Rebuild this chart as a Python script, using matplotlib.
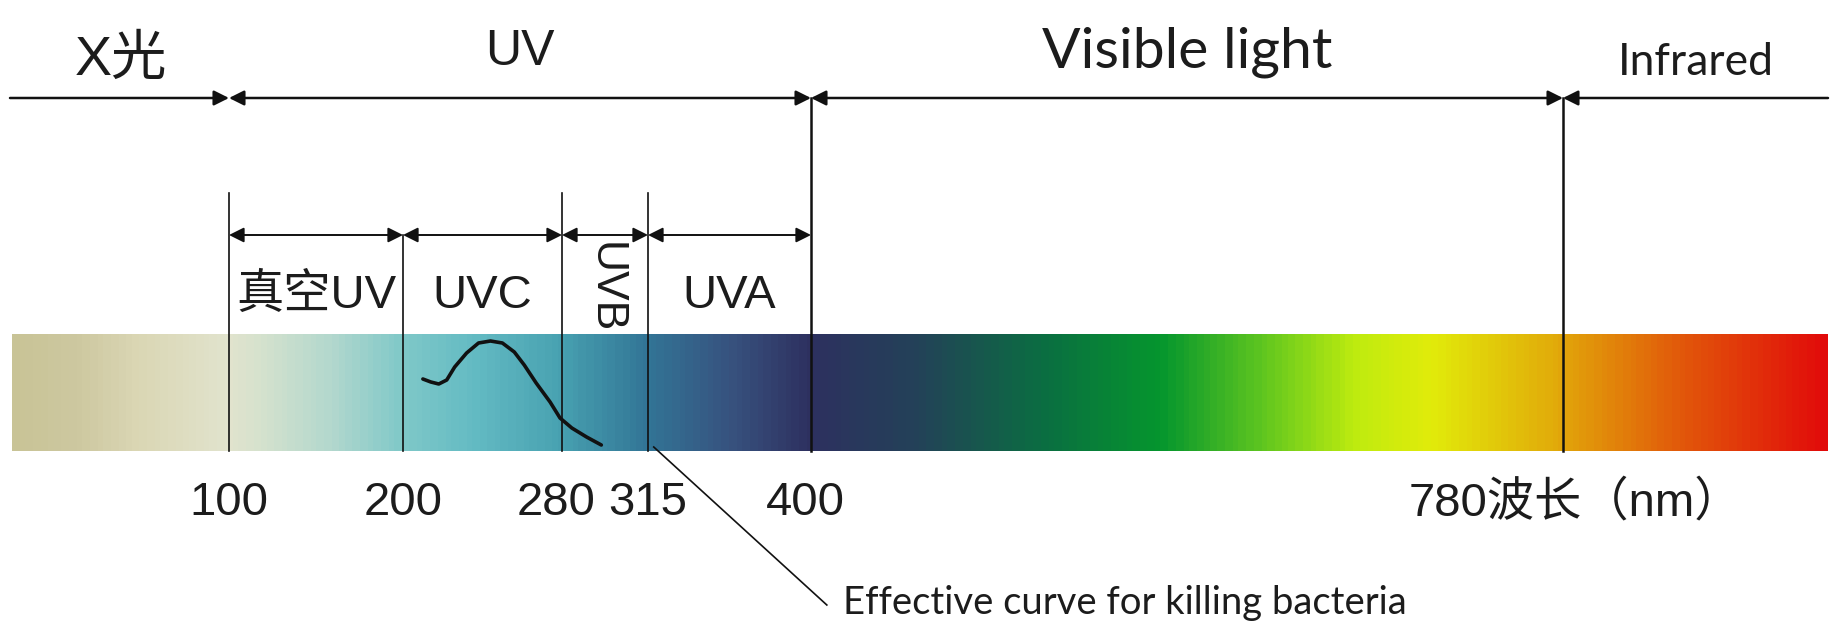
import numpy as np
import matplotlib
matplotlib.use('Agg')
import matplotlib.pyplot as plt
from matplotlib import font_manager
from matplotlib.colors import LinearSegmentedColormap

# band edges (nm) and names
edges = [100, 200, 280, 315, 400, 780]
edge_labels = ['100', '200', '280', '315', '400', '780波长（nm）']
top_bands = ['X光', 'UV', 'Visible light', 'Infrared']
top_spans = [(0, 100), (100, 400), (400, 780), (780, 1000)]
uv_bands = ['真空UV', 'UVC', 'UVB', 'UVA']
uv_spans = [(100, 200), (200, 280), (280, 315), (315, 400)]

# germicidal (effective) curve
curve_nm = [210, 214, 218, 222, 226, 232, 238, 244, 250, 256, 261, 267, 274, 279, 284, 290, 296]
curve_y = [379, 382, 384, 380, 367, 353, 343, 341, 343, 352, 365, 383, 402, 418, 428, 437, 445]

# spectrum colours along the bar (position along bar, rgb)
grad_pos = [0, 64, 123, 214, 252, 317, 387, 458, 545, 633, 721, 798, 905, 1034, 1151, 1257, 1345, 1421, 1545, 1668, 1816]
grad_rgb = [(200, 195, 150), (205, 200, 160), (218, 214, 180), (225, 227, 205), (210, 225, 205),
            (178, 215, 205), (128, 200, 200), (100, 187, 195), (72, 162, 177), (50, 117, 150),
            (55, 80, 125), (45, 48, 95), (35, 65, 88), (10, 110, 65), (5, 150, 45),
            (100, 200, 30), (190, 235, 15), (225, 235, 10), (225, 170, 10), (225, 90, 10), (225, 10, 10)]

# piecewise scale: wavelength -> pixel column (schematic, not linear)
wl_anchor = [-1000, 0, 100, 200, 280, 315, 400, 780, 1000, 3000]
px_anchor = [-2158, 12, 229, 403, 562, 648, 811, 1563, 1828, 4237]


def fwd(x):
    return np.interp(x, wl_anchor, px_anchor)


def inv(p):
    return np.interp(p, px_anchor, wl_anchor)


def has_font(name):
    try:
        font_manager.findfont(font_manager.FontProperties(family=name), fallback_to_default=False)
        return True
    except ValueError:
        return False


narrow = 'Liberation Sans Narrow' if has_font('Liberation Sans Narrow') else 'Liberation Sans'
fam_narrow = [narrow, 'Noto Sans CJK SC']
fam_soft = ['Lato', 'Noto Sans CJK SC']
ink = '#1c1c1c'

fig = plt.figure(figsize=(18.37, 6.27), dpi=100)
ax = fig.add_axes([0, 0, 1, 1])
ax.set_xscale('function', functions=(fwd, inv))
ax.set_xlim(inv(0), inv(1837))
ax.set_ylim(627, 0)
ax.axis('off')

# gradient bar
cmap = LinearSegmentedColormap.from_list(
    'spec', [(p / grad_pos[-1], tuple(c / 255 for c in rgb)) for p, rgb in zip(grad_pos, grad_rgb)])
px_edges = np.linspace(12, 1828, 700)
xs = inv(px_edges)
vals = ((px_edges[:-1] + px_edges[1:]) / 2 - 12) / (1828 - 12)
ax.pcolormesh(xs, [334, 451], vals[None, :], cmap=cmap, vmin=0, vmax=1, shading='flat')

# vertical boundary lines
for e in [100, 280, 315]:
    ax.plot([e, e], [193, 451], color='#111111', lw=1.2)
ax.plot([200, 200], [235, 451], color='#111111', lw=1.2)
for e in [400, 780]:
    ax.plot([e, e], [98, 451], color='#111111', lw=1.8)

arrow = dict(color='#111111', lw=1.8, shrinkA=0, shrinkB=0, mutation_scale=10)

# top dimension line
for i, (a, b) in enumerate(top_spans):
    if i == 0:
        style = '-|>,head_length=0.9,head_width=0.45'
        a = inv(10)
    elif i == len(top_spans) - 1:
        style = '<|-,head_length=0.9,head_width=0.45'
        b = inv(1828)
    else:
        style = '<|-|>,head_length=0.9,head_width=0.45'
    ax.annotate('', xy=(b, 98), xytext=(a, 98), arrowprops=dict(arrowstyle=style, **arrow))

# UV sub-band dimension line
for a, b in uv_spans:
    ax.annotate('', xy=(b, 235), xytext=(a, 235),
                arrowprops=dict(arrowstyle='<|-|>,head_length=0.9,head_width=0.45',
                                color='#111111', lw=1.4, shrinkA=0, shrinkB=0, mutation_scale=10))

# top band labels
top_fonts = [(fam_narrow, 40, 75), (fam_narrow, 36, 65), (fam_soft, 41, 68), (fam_soft, 32, 75)]
for name, (a, b), (fam, fs, yb) in zip(top_bands, top_spans, top_fonts):
    xm = inv((fwd(a) + fwd(b)) / 2)
    ax.text(xm, yb, name, ha='center', va='baseline', fontsize=fs, family=fam, color=ink)

# UV sub-band labels
for name, (a, b) in zip(uv_bands, uv_spans):
    xm = inv((fwd(a) + fwd(b)) / 2)
    if name == 'UVB':
        ax.text(xm, 288, name, ha='center', va='center', rotation=-90,
                fontsize=32, family=fam_narrow, color=ink)
    else:
        ax.text(xm, 308, name, ha='center', va='baseline', fontsize=34,
                family=fam_narrow, color=ink)

# wavelength labels under the bar
label_shift = {280: -6, 400: -6, 780: 12}
for e, lab in zip(edges, edge_labels):
    x = inv(fwd(e) + label_shift.get(e, 0))
    ax.text(x, 515, lab, ha='center', va='baseline', fontsize=34,
            family=fam_narrow, color=ink)

# germicidal curve
ax.plot(curve_nm, curve_y, color='#111111', lw=2.6, solid_capstyle='round', solid_joinstyle='round')

# leader line + caption
ax.plot([318, 408], [447, 605], color='#111111', lw=1.2)
ax.text(416, 614, 'Effective curve for killing bacteria', ha='left', va='baseline',
        fontsize=27.5, family=fam_soft, color=ink)

fig.savefig('out.png', dpi=100, facecolor='white')
